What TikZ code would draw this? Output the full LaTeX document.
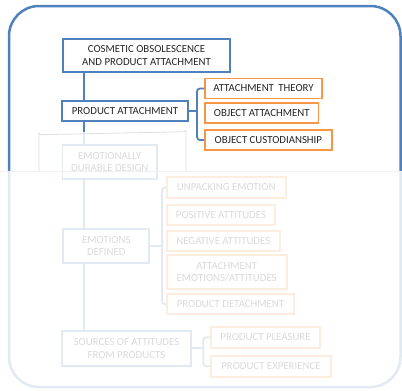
\documentclass[tikz,border=0pt]{standalone}
\usepackage{fontspec}
\setmainfont{Carlito}
\definecolor{ofblue}{RGB}{79,129,189}
\definecolor{oforange}{RGB}{247,150,70}
\definecolor{txt}{RGB}{38,38,38}
\newcommand{\lbl}{\fontsize{10.8}{12.7}\selectfont}
\tikzset{
  boxbase/.style={fill=white, line width=1.8pt, inner sep=0pt, align=center,
    text=txt, font=\lbl},
  bluebox/.style={boxbase, draw=ofblue},
  orangebox/.style={boxbase, draw=oforange},
  link/.style={draw=ofblue, line width=1.8pt},
  brace/.style={link, rounded corners=3pt},
  veil/.style={fill=white, fill opacity=0.83},
}
\begin{document}
\begin{tikzpicture}[x=1pt, y=-1pt]
\useasboundingbox (0,0) rectangle (402,391);

% outer frame
\draw[draw=ofblue, line width=2.5pt, rounded corners=30pt] (9,6) rectangle (400.5,387);

% trunk position and brace positions
\coordinate (t0) at (84,60);
\coordinate (b1) at (197,111);
\coordinate (b2) at (162,246);
\coordinate (b3) at (203.3,348.3);

% top level
\node[bluebox, minimum width=167pt, minimum height=33pt] (cosm) at (146.5,55.5)
  {COSMETIC OBSOLESCENCE\\AND PRODUCT ATTACHMENT};

% trunk line (behind boxes)
\draw[link] (t0 |- cosm.south) -- (t0 |- 0,331);

\node[bluebox, minimum width=126pt, minimum height=20pt] (patt) at (125,111)
  {PRODUCT ATTACHMENT};
\node[orangebox, minimum width=117pt, minimum height=20pt] (theo) at (263.5,88.5)
  {ATTACHMENT\hspace{2pt} THEORY};
\node[orangebox, minimum width=113.5pt, minimum height=20pt] (oatt) at (261.75,113.3)
  {OBJECT ATTACHMENT};
\node[orangebox, minimum width=126.7pt, minimum height=20pt] (ocus) at (268.3,140)
  {OBJECT CUSTODIANSHIP};
\draw[brace] (theo.west) -| (b1) |- (ocus.west);
\draw[link] (patt.east) -- (b1);

% second group
\node[bluebox, minimum width=94.5pt, minimum height=34pt] (edd) at (109.75,162)
  {EMOTIONALLY\\DURABLE DESIGN};
\node[bluebox, minimum width=86pt, minimum height=34pt] (edef) at (106.3,246)
  {EMOTIONS\\DEFINED};
\node[orangebox, minimum width=119pt, minimum height=20.4pt] (unp) at (226.2,187.5)
  {UNPACKING EMOTION};
\node[orangebox, minimum width=108.6pt, minimum height=20pt] (pos) at (221,215)
  {POSITIVE ATTITUDES};
\node[orangebox, minimum width=113.3pt, minimum height=20pt] (neg) at (223.3,240.8)
  {NEGATIVE ATTITUDES};
\node[orangebox, minimum width=120pt, minimum height=34pt] (aea) at (226.7,272.3)
  {ATTACHMENT\\EMOTIONS/ATTITUDES};
\node[orangebox, minimum width=127.6pt, minimum height=20.3pt] (pdet) at (230.5,304.2)
  {PRODUCT DETACHMENT};
\draw[brace] (unp.west) -| (b2) |- (pdet.west);
\draw[link] (edef.east) -- (b2);

% third group
\node[bluebox, minimum width=128.4pt, minimum height=34.7pt] (src) at (126.5,348.3)
  {SOURCES OF ATTITUDES\\FROM PRODUCTS};
\node[orangebox, minimum width=109pt, minimum height=21pt] (ppl) at (265.5,337.2)
  {PRODUCT PLEASURE};
\node[orangebox, minimum width=120pt, minimum height=21pt] (pexp) at (271,366.3)
  {PRODUCT EXPERIENCE};
\draw[brace] (ppl.west) -| (b3) |- (pexp.west);
\draw[link] (src.east) -- (b3);

% translucent sheets over the lower part
\fill[veil] (39,131.7) rectangle (186,171.7);
\draw[draw=black!13, line width=0.8pt] (39,171.7) -- (39,133.2) arc[start angle=180, end angle=270, radius=1.5pt]
  -- (184.5,131.7) arc[start angle=270, end angle=360, radius=1.5pt] -- (186,171.7);
\fill[veil] (-1,171.7) rectangle (403,392);
\draw[draw=black!6, line width=0.6pt] (0,171.7) -- (402,171.7);
\end{tikzpicture}
\end{document}
